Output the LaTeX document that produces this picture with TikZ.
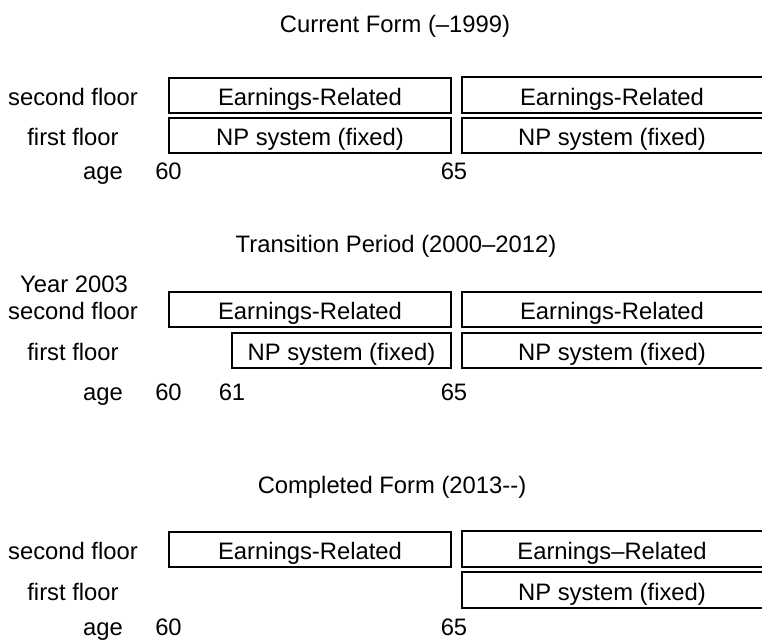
\documentclass[tikz,border=0pt]{standalone}
\usepackage{fontspec}
\setmainfont{Liberation Sans}
\usetikzlibrary{positioning}

\begin{document}
\begin{tikzpicture}[x=0.5pt, y=-0.5pt,
        every node/.style={font=\fontsize{11.9}{14}\selectfont, inner sep=0pt, text height=10pt, text depth=0pt},
        floorbox/.style={draw, line width=1pt, minimum height=17.5pt},
        openbox/.style={minimum height=17.5pt, minimum width=150pt}]
        \useasboundingbox (0,0) rectangle (762,639);

        % current form
        \node (t1) at (395,22) {Current Form (--1999)};
        \node (sf1) at (73,95) {second floor};
        \node (ff1) at (73,135.5) {first floor};
        \node (age1) at (103,169) {age};
        \node[floorbox, minimum width=141pt] (er1) at (310,95) {Earnings-Related};
        \node[floorbox, minimum width=141pt] (np1) at (310,135.5) {NP system (fixed)};
        \node[openbox] (er1r) at (612,95) {Earnings-Related};
        \node[openbox] (np1r) at (612,135.5) {NP system (fixed)};
        \draw[line width=1pt] (er1r.north east) -- (er1r.north west) -- (er1r.south west) -- (er1r.south east);
        \draw[line width=1pt] (np1r.north east) -- (np1r.north west) -- (np1r.south west) -- (np1r.south east);
        \node (a60a) at (168.5,169) {60};
        \node (a65a) at (454,169) {65};

        % transition period
        \node (t2) at (396,242) {Transition Period (2000--2012)};
        \node (yr2) at (74,282) {Year 2003};
        \node (sf2) at (73,309.5) {second floor};
        \node (ff2) at (73,350.5) {first floor};
        \node (age2) at (103,390) {age};
        \node[floorbox, minimum width=141pt] (er2) at (310,309.5) {Earnings-Related};
        \node[floorbox, minimum width=109.5pt] (np2) at (341.5,350.5) {NP system (fixed)};
        \node[openbox] (er2r) at (612,309.5) {Earnings-Related};
        \node[openbox] (np2r) at (612,350.5) {NP system (fixed)};
        \draw[line width=1pt] (er2r.north east) -- (er2r.north west) -- (er2r.south west) -- (er2r.south east);
        \draw[line width=1pt] (np2r.north east) -- (np2r.north west) -- (np2r.south west) -- (np2r.south east);
        \node (a60b) at (168.5,390) {60};
        \node (a61b) at (232,390) {61};
        \node (a65b) at (454,390) {65};

        % completed form
        \node (t3) at (392,483) {Completed Form (2013-{}-)};
        \node (sf3) at (73,549) {second floor};
        \node (ff3) at (73,590) {first floor};
        \node (age3) at (103,625) {age};
        \node[floorbox, minimum width=141pt] (er3) at (310,549) {Earnings-Related};
        \node[openbox] (er3r) at (612,549) {Earnings--Related};
        \node[openbox] (np3r) at (612,590) {NP system (fixed)};
        \draw[line width=1pt] (er3r.north east) -- (er3r.north west) -- (er3r.south west) -- (er3r.south east);
        \draw[line width=1pt] (np3r.north east) -- (np3r.north west) -- (np3r.south west) -- (np3r.south east);
        \node (a60c) at (168.5,625) {60};
        \node (a65c) at (454,625) {65};
    \end{tikzpicture}
\end{document}
